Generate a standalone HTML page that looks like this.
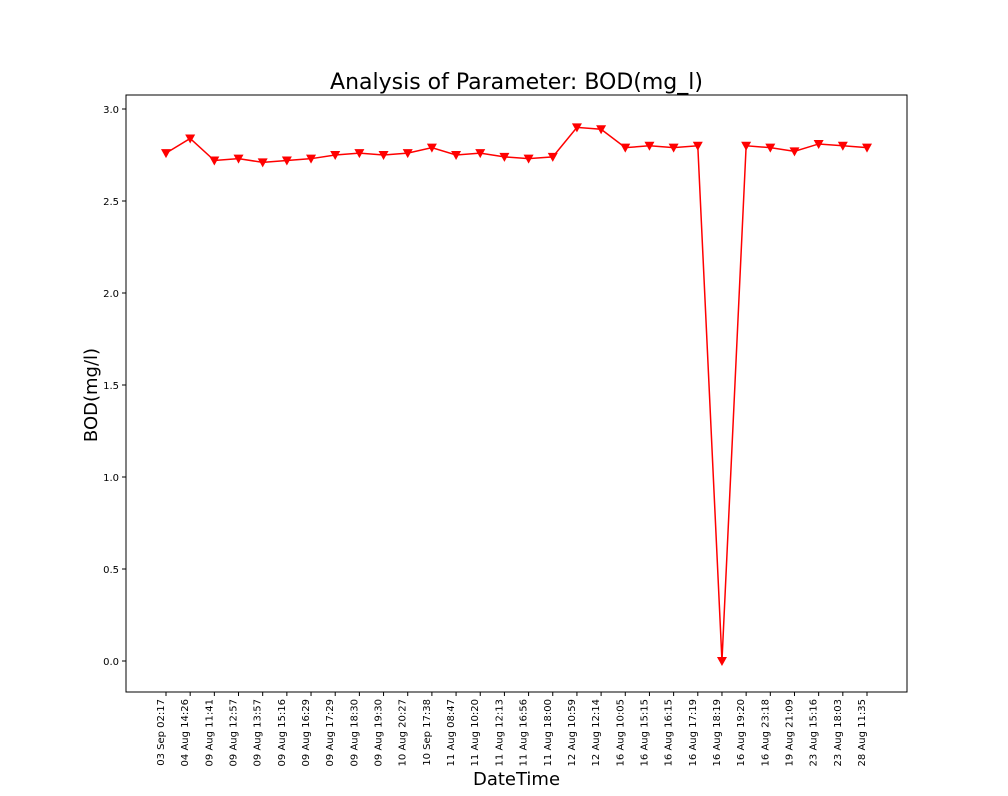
<!DOCTYPE html>
<html><head><meta charset="utf-8"><style>
body{margin:0;background:#fff;font-family:"DejaVu Sans","Liberation Sans",sans-serif}
</style></head><body>
<svg id="chart" width="1008" height="792" xmlns="http://www.w3.org/2000/svg" font-family="DejaVu Sans, Liberation Sans, sans-serif">
<rect width="1008" height="792" fill="#fff"/>
<text x="516.5" y="89" font-size="22" text-anchor="middle" fill="#000">Analysis of Parameter: BOD(mg_l)</text>
<text x="516.5" y="785" font-size="18" text-anchor="middle" fill="#000">DateTime</text>
<text x="0" y="0" font-size="18" text-anchor="middle" transform="translate(97,395) rotate(-90)" fill="#000">BOD(mg/l)</text>
<g id="axes"></g>
<rect x="126" y="95" width="781" height="597" fill="none" stroke="#000" stroke-width="1"/>
</svg>
<script>
const categories=["03 Sep 02:17","04 Aug 14:26","09 Aug 11:41","09 Aug 12:57","09 Aug 13:57","09 Aug 15:16","09 Aug 16:29","09 Aug 17:29","09 Aug 18:30","09 Aug 19:30","10 Aug 20:27","10 Sep 17:38","11 Aug 08:47","11 Aug 10:20","11 Aug 12:13","11 Aug 16:56","11 Aug 18:00","12 Aug 10:59","12 Aug 12:14","16 Aug 10:05","16 Aug 15:15","16 Aug 16:15","16 Aug 17:19","16 Aug 18:19","16 Aug 19:20","16 Aug 23:18","19 Aug 21:09","23 Aug 15:16","23 Aug 18:03","28 Aug 11:35"];
const values=[2.76,2.84,2.72,2.73,2.71,2.72,2.73,2.75,2.76,2.75,2.76,2.79,2.75,2.76,2.74,2.73,2.74,2.90,2.89,2.79,2.80,2.79,2.80,0.0,2.80,2.79,2.77,2.81,2.80,2.79];
const yTicks=[0.0,0.5,1.0,1.5,2.0,2.5,3.0];
const NS="http://www.w3.org/2000/svg";
const g=document.getElementById('axes');
const x0=166,x1=867;
function xs(i){return x0+i*(x1-x0)/(categories.length-1);}
function ys(v){return 661-v*184;}
function mk(t,a){const e=document.createElementNS(NS,t);for(const k in a)e.setAttribute(k,a[k]);g.appendChild(e);return e;}
yTicks.forEach(v=>{
  const l=mk('line',{x1:122,x2:126,y1:ys(v),y2:ys(v),stroke:'#000'});
  
  
  const t=mk('text',{x:119,y:ys(v)+4,'font-size':10,'text-anchor':'end'});
  t.textContent=v.toFixed(1);
  
  
});
categories.forEach((c,i)=>{
  const x=xs(i);
  const l=mk('line',{x1:x,x2:x,y1:692,y2:696,stroke:'#000'});
  
  
  const t=mk('text',{x:0,y:0,'font-size':10,'text-anchor':'end',transform:`translate(${x-2},699) rotate(-90)`});
  t.textContent=c;
  
  
});
const line=mk('polyline',{points:values.map((v,i)=>xs(i)+','+ys(v)).join(' '),fill:'none',stroke:'#ff0000','stroke-width':1.5});


values.forEach((v,i)=>{
  const x=xs(i),y=ys(v);
  const m=mk('polygon',{points:`${x-5},${y-4} ${x+5},${y-4} ${x},${y+5}`,fill:'#ff0000'});
  
  
});
</script>
</body></html>
